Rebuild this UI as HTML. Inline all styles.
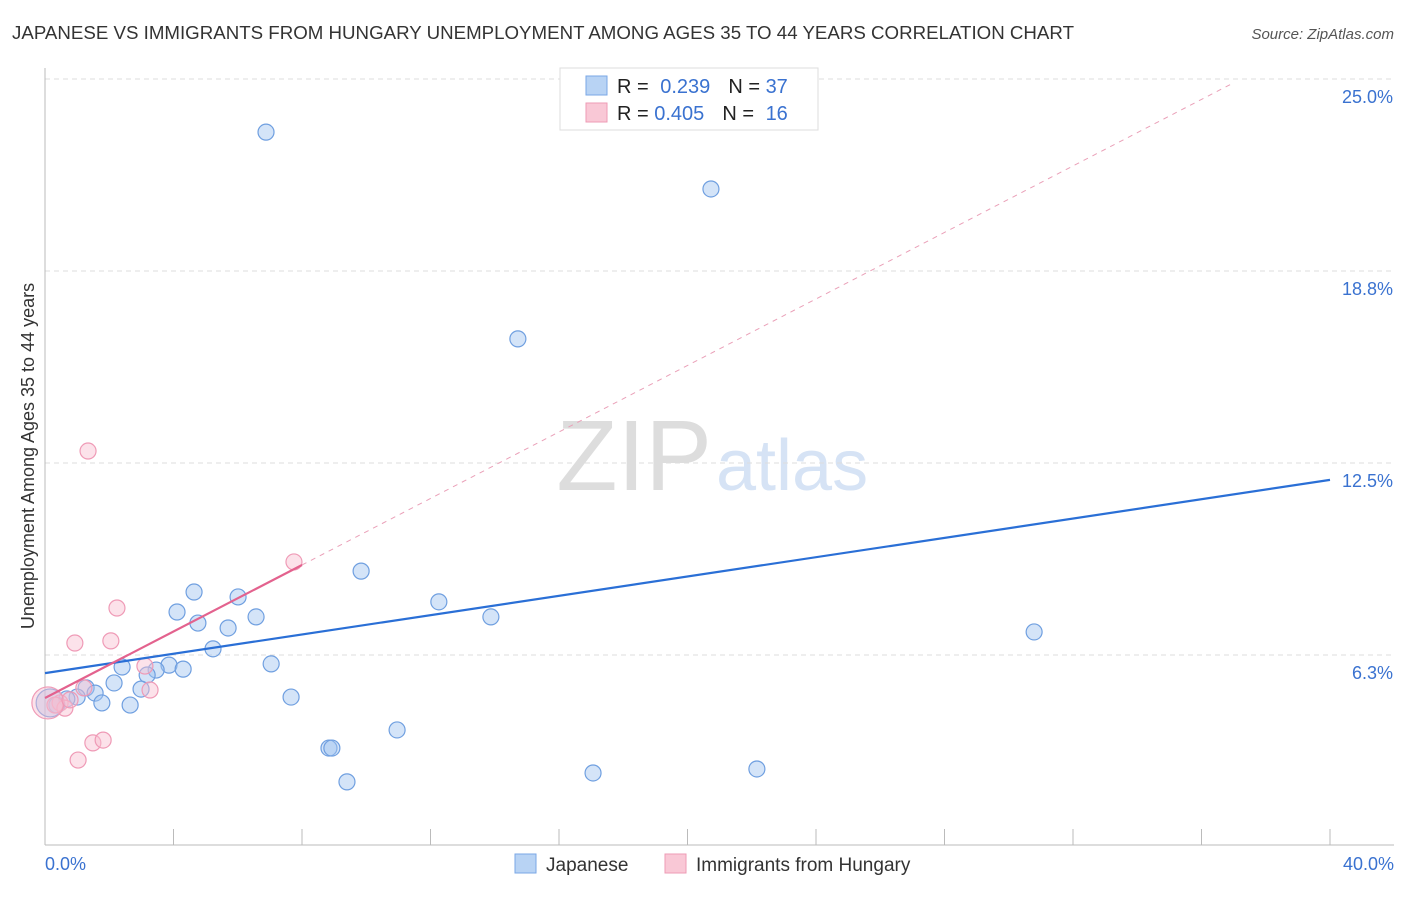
<!DOCTYPE html>
<html><head><meta charset="utf-8"><style>
body{margin:0;background:#fff;font-family:"Liberation Sans",sans-serif;}
svg text{font-family:"Liberation Sans",sans-serif;}
</style></head><body>
<svg id="chart" width="1406" height="892" xmlns="http://www.w3.org/2000/svg">
<text x="12" y="39" font-size="18" fill="#333" textLength="1062" lengthAdjust="spacingAndGlyphs">JAPANESE VS IMMIGRANTS FROM HUNGARY UNEMPLOYMENT AMONG AGES 35 TO 44 YEARS CORRELATION CHART</text>
<text x="1394" y="39" font-size="15" fill="#555" font-style="italic" text-anchor="end">Source: ZipAtlas.com</text>
<text x="712" y="490" font-size="100" fill="#ddd" text-anchor="end" font-family="Liberation Serif">ZIP</text>
<text x="716" y="490" font-size="72" fill="#d6e3f5">atlas</text>
<g id="grid"></g>
<g id="axes"></g>
<g id="marks"></g>
<text transform="translate(34,456) rotate(-90)" font-size="18" fill="#333" text-anchor="middle">Unemployment Among Ages 35 to 44 years</text>
<g>
<rect x="560" y="68" width="258" height="62" fill="#fff" stroke="#ddd"/>
<rect x="586" y="76" width="21" height="19" fill="#b8d3f4" stroke="#7aa7e6"/>
<rect x="586" y="103" width="21" height="19" fill="#f9c8d6" stroke="#ee9bb5"/>
<text x="617" y="93" font-size="20" fill="#222">R = <tspan fill="#3a72d0" dx="6">0.239</tspan><tspan fill="#222" dx="18">N = </tspan><tspan fill="#3a72d0">37</tspan></text>
<text x="617" y="120" font-size="20" fill="#222">R = <tspan fill="#3a72d0">0.405</tspan><tspan fill="#222" dx="18">N = </tspan><tspan fill="#3a72d0" dx="6">16</tspan></text>
</g>
<g>
<rect x="515" y="854" width="21" height="19" fill="#b8d3f4" stroke="#7aa7e6"/>
<text x="546" y="871" font-size="19" fill="#333">Japanese</text>
<rect x="665" y="854" width="21" height="19" fill="#f9c8d6" stroke="#ee9bb5"/>
<text x="696" y="871" font-size="19" fill="#333">Immigrants from Hungary</text>
</g>
</svg>
<script>
const xTickVals=[0,4,8,12,16,20,24,28,32,36,40];
const yTickVals=[6.25,12.5,18.75,25];
const yTickLabels=["6.3%","12.5%","18.8%","25.0%"];
const japX=[6.88,20.73,14.72,9.84,4.64,6.01,4.11,12.26,13.88,6.57,4.76,5.70,30.79,5.23,2.40,3.86,3.46,7.04,4.30,3.18,2.15,2.99,1.28,1.56,1.00,0.68,2.65,1.77,0.37,7.66,10.96,8.84,8.93,9.40,17.06,22.16,0.16];
const japY=[23.27,21.42,16.54,8.98,8.30,8.14,7.65,7.98,7.49,7.49,7.29,7.13,7.00,6.45,5.86,5.92,5.76,5.96,5.79,5.60,5.34,5.14,5.18,5.01,4.88,4.82,4.62,4.69,4.62,4.88,3.81,3.22,3.22,2.12,2.41,2.54,4.69];
const hunX=[1.34,7.75,2.24,0.93,2.05,3.11,3.27,1.21,0.47,0.62,0.31,1.49,1.81,1.03,0.09,0.78];
const hunY=[12.89,9.28,7.78,6.64,6.71,5.89,5.11,5.18,4.69,4.52,4.62,3.39,3.48,2.83,4.69,4.79];
const japTrend=[5.66,11.95];
const hunTrend=[4.85,9.18];
const xs=v=>45+v*32.125, ys=v=>847-v*30.72;
const NS="http://www.w3.org/2000/svg";
function mk(p,t,a){const e=document.createElementNS(NS,t);for(const k in a)e.setAttribute(k,a[k]);p.appendChild(e);return e;}
const grid=document.getElementById('grid'),axes=document.getElementById('axes'),marks=document.getElementById('marks');
yTickVals.forEach((v,i)=>{
 const l=mk(grid,'line',{x1:45,x2:1394,y1:ys(v),y2:ys(v),stroke:'#ddd','stroke-dasharray':'5,4'});
 
 
 const t=mk(axes,'text',{x:1393,y:ys(v)+24,'font-size':18,fill:'#3a72d0','text-anchor':'end'});
 t.textContent=yTickLabels[i];
 
 
});
const ax=mk(axes,'line',{x1:45,x2:1394,y1:845,y2:845,stroke:'#bbb'});


const ay=mk(axes,'line',{x1:45,x2:45,y1:68,y2:845,stroke:'#bbb'});


xTickVals.forEach(v=>{const t=mk(axes,'line',{x1:xs(v),x2:xs(v),y1:829,y2:845,stroke:'#bbb'});
 
 });
[["0.0%",45,'start'],["40.0%",1394,'end']].forEach(d=>{const t=mk(axes,'text',{x:d[1],y:870,'font-size':18,fill:'#3a72d0','text-anchor':d[2]});t.textContent=d[0];
 
 });
japX.forEach((x,i)=>{const c=mk(marks,'circle',{cx:xs(x),cy:ys(japY[i]),r:i==japX.length-1?14:8,fill:'rgba(160,195,240,0.45)',stroke:'#6f9fe0','stroke-width':1.2});
 
 });
hunX.forEach((x,i)=>{const c=mk(marks,'circle',{cx:xs(x),cy:ys(hunY[i]),r:i==14?16:8,fill:'rgba(248,190,208,0.45)',stroke:'#ef9ab6','stroke-width':1.2});
 
 });
const slopeH=(hunTrend[1]-hunTrend[0])/8;
const ext=mk(marks,'line',{x1:xs(8),y1:ys(hunTrend[1]),x2:xs(37.0),y2:ys(hunTrend[0]+slopeH*37.0),stroke:'#eaa0b8','stroke-dasharray':'5,5','stroke-width':1});


const bt=mk(marks,'line',{x1:xs(0),y1:ys(japTrend[0]),x2:xs(40),y2:ys(japTrend[1]),stroke:'#2a6fd6','stroke-width':2.2});


const pt=mk(marks,'line',{x1:xs(0),y1:ys(hunTrend[0]),x2:xs(8),y2:ys(hunTrend[1]),stroke:'#e3628e','stroke-width':2.2});


</script>
</body></html>
